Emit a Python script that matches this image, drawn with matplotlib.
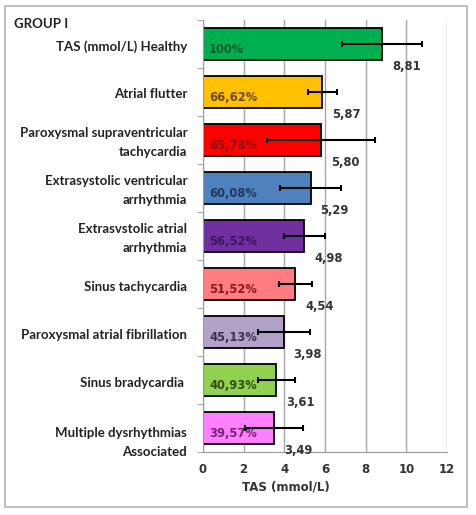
import numpy as np
import matplotlib.pyplot as plt
from matplotlib.patches import Rectangle

# datos del grafico (de arriba hacia abajo)
categorias = ['TAS (mmol/L) Healthy', 'Atrial flutter',
              'Paroxysmal supraventricular\ntachycardia',
              'Extrasystolic ventricular\narrhythmia',
              'Extrasvstolic atrial\narrhythmia',
              'Sinus tachycardia', 'Paroxysmal atrial fibrillation',
              'Sinus bradycardia ', 'Multiple dysrhythmias\nAssociated']
tas = [8.81, 5.87, 5.80, 5.29, 4.98, 4.54, 3.98, 3.61, 3.49]
errores = [1.95, 0.73, 2.65, 1.5, 1.0, 0.8, 1.3, 0.9, 1.43]
porcentajes = ['100%', '66,62%', '65,78%', '60,08%', '56,52%', '51,52%', '45,13%', '40,93%', '39,57%']
valores_txt = ['8,81', '5,87', '5,80', '5,29', '4,98', '4,54', '3,98', '3,61', '3,49']
colores = ['#00B050', '#FFC000', '#FF0000', '#4F81BD', '#7030A0',
           '#FF7C80', '#B3A2C7', '#92D050', '#FF80FF']
colores_txt = ['#0B5A2A', '#6B4A08', '#8A1010', '#1F3864', '#3D1560',
               '#8A1A1A', '#3A3050', '#2E5010', '#7A1F7A']
xticks = [0, 2, 4, 6, 8, 10, 12]

fig = plt.figure(figsize=(4.77, 5.15), dpi=100)
ax = fig.add_axes([0.4256, 0.122, 0.5115, 0.839])

y = np.arange(len(categorias))
ax.barh(y, tas, height=0.67, color=colores, edgecolor='black', linewidth=1.3, zorder=2)
ax.errorbar(tas, y, xerr=errores, fmt='none', ecolor='black', elinewidth=1.5,
            capsize=2.5, capthick=1.5, zorder=5)

for i in range(len(categorias)):
    ax.text(0.3, y[i] + 0.12, porcentajes[i], color=colores_txt[i], fontsize=8.3,
            fontweight='bold', ha='left', va='center', zorder=4)
    ax.annotate(valores_txt[i], xy=(tas[i], y[i] + 0.47), xytext=(7, 0),
                textcoords='offset points', fontsize=8.3, fontweight='bold',
                color='#333333', ha='left', va='center', zorder=4)
    ylab = y[i] + 0.3 if i == len(categorias) - 1 else y[i] + 0.05
    ax.text(-0.065, ylab, categorias[i], transform=ax.get_yaxis_transform(),
            ha='right', va='center', fontsize=9.5, family='Lato', fontweight='bold',
            color='#222222', linespacing=1.75)

ax.set_xlim(0, 12)
ax.set_ylim(len(categorias) - 0.5, -0.5)
ax.set_xticks(xticks)
ax.set_xticklabels([str(t) for t in xticks], fontsize=8.5, fontweight='bold', color='#333333')
ax.set_yticks([])
ax.set_yticks(np.arange(len(categorias) + 1) - 0.5, minor=True)
ax.tick_params(axis='y', which='minor', length=4, color='#999999', direction='out')
ax.tick_params(axis='x', length=0, pad=8)
ax.xaxis.grid(True, color='#A6A6A6', linewidth=1)
ax.set_axisbelow(True)
for lado in ['top', 'right']:
    ax.spines[lado].set_visible(False)
ax.spines['left'].set_color('#999999')
ax.spines['bottom'].set_color('#999999')

ax.set_xlabel('TAS (mmol/L)', fontsize=8.5, fontweight='bold', color='#333333', labelpad=3)
ax.xaxis.set_label_coords(0.34, -0.065)

fig.text(0.03, 0.953, 'GROUP I', fontsize=9.5, family='Lato', fontweight='bold',
         color='#222222', ha='left', va='center')

# marco gris alrededor de la figura
fig.patches.append(Rectangle((0.011, 0.016), 0.969, 0.972, transform=fig.transFigure,
                             fill=False, edgecolor='#BFBFBF', linewidth=1.5))

fig.savefig('out.png', dpi=100)
